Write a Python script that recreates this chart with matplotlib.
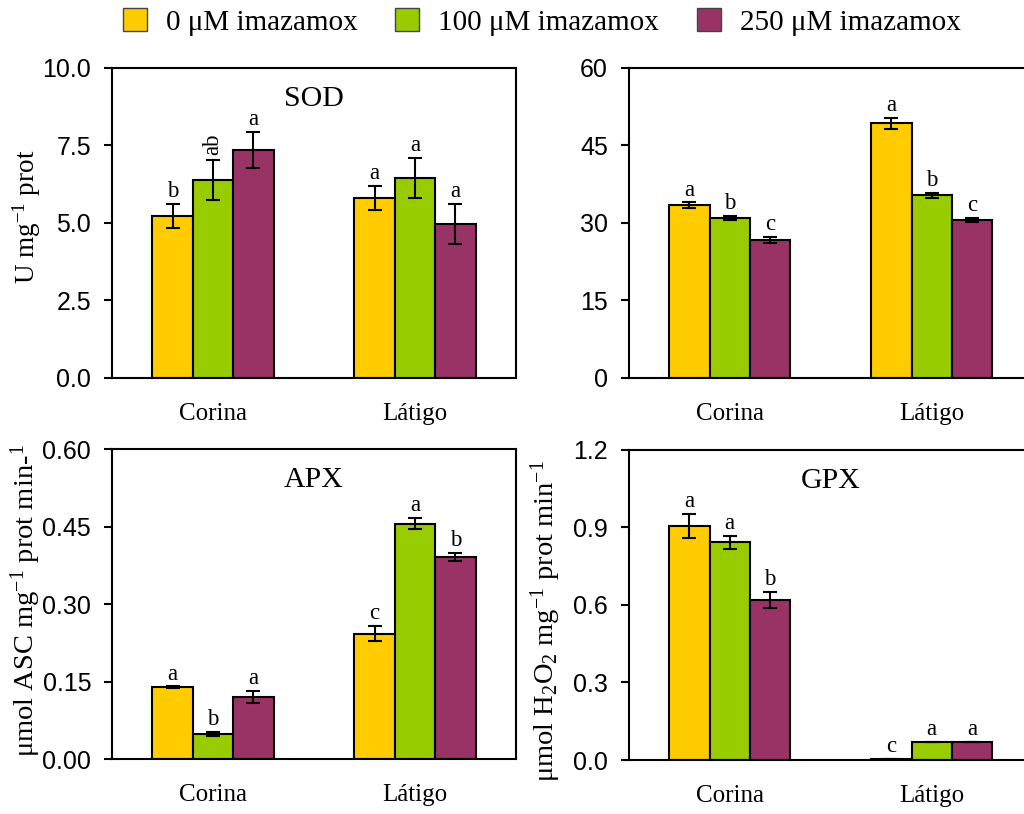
import matplotlib
matplotlib.use("Agg")
import matplotlib.pyplot as plt
from matplotlib.patches import Patch
import numpy as np

plt.rcParams.update({
    "font.family": "Liberation Serif",
    "mathtext.fontset": "custom",
    "mathtext.rm": "Liberation Serif",
    "mathtext.it": "Liberation Serif:italic",
    "mathtext.bf": "Liberation Serif:bold",
})

cultivars = ["Corina", "Látigo"]
treatments = ["0 μM imazamox", "100 μM imazamox", "250 μM imazamox"]
colors = ["#FFCC00", "#99CC00", "#993366"]

# values per treatment: [Corina, Látigo]
sod_mean = [[5.22, 5.80], [6.37, 6.44], [7.35, 4.96]]
sod_err = [[0.38, 0.38], [0.64, 0.65], [0.58, 0.64]]
sod_let = [["b", "a"], ["ab", "a"], ["a", "a"]]

cat_mean = [[33.4, 49.2], [30.9, 35.3], [26.7, 30.5]]
cat_err = [[0.5, 1.1], [0.45, 0.45], [0.6, 0.45]]
cat_let = [["a", "a"], ["b", "b"], ["c", "c"]]

apx_mean = [[0.139, 0.243], [0.0496, 0.456], [0.120, 0.391]]
apx_err = [[0.002, 0.015], [0.004, 0.011], [0.012, 0.008]]
apx_let = [["a", "c"], ["b", "a"], ["a", "b"]]

gpx_mean = [[0.905, 0.005], [0.842, 0.069], [0.619, 0.069]]
gpx_err = [[0.046, 0.0], [0.024, 0.0], [0.031, 0.0]]
gpx_let = [["a", "c"], ["a", "a"], ["b", "a"]]

panels = [
    # rect, means, errs, letters, ylim, yticks, fmt, title, ylabel, label size, label coords
    ([0.1094, 0.536, 0.3945, 0.381], sod_mean, sod_err, sod_let, 10, [0, 2.5, 5, 7.5, 10], "%.1f",
     "SOD", "U mg$^{-1}$ prot", 19.5, (-0.17, 0.52)),
    ([0.614, 0.536, 0.3945, 0.381], cat_mean, cat_err, cat_let, 60, [0, 15, 30, 45, 60], "%d",
     "", "", 19, None),
    ([0.1094, 0.0672, 0.3945, 0.381], apx_mean, apx_err, apx_let, 0.6, [0, 0.15, 0.30, 0.45, 0.60], "%.2f",
     "APX", "μmol ASC mg$^{-1}$ prot min-$^{1}$", 20.5, (-0.17, 0.51)),
    ([0.614, 0.0663, 0.3945, 0.381], gpx_mean, gpx_err, gpx_let, 1.2, [0, 0.3, 0.6, 0.9, 1.2], "%.1f",
     "GPX", "μmol H$_2$O$_2$ mg$^{-1}$ prot min$^{-1}$", 20.5, (-0.163, 0.447)),
]

fig = plt.figure(figsize=(10.24, 8.14), dpi=100)

x = np.array([1.0, 3.0])
w = 0.4
for rect, means, errs, lets, ymax, yticks, fmt, title, ylabel, lsize, lc in panels:
    ax = fig.add_axes(rect)
    for i in range(3):
        pos = x + (i - 1) * w
        ax.bar(pos, means[i], w, color=colors[i], edgecolor="black", linewidth=1.5, zorder=2)
        ax.errorbar(pos, means[i], yerr=errs[i], fmt="none", ecolor="black",
                    elinewidth=1.5, capsize=5, capthick=1.5, zorder=3)
        for j in range(2):
            top = means[i][j] + errs[i][j]
            if len(lets[i][j]) > 1:
                # two-letter groups are written vertically
                ax.text(pos[j], top + ymax * 0.016, lets[i][j], ha="center", va="bottom",
                        fontsize=16.5, rotation=90)
            else:
                ax.text(pos[j], top + ymax * 0.006, lets[i][j], ha="center", va="bottom",
                        fontsize=16.5)
    ax.set_xlim(0, 4)
    ax.set_ylim(0, ymax)
    ax.set_yticks(yticks)
    ax.yaxis.set_major_formatter(matplotlib.ticker.FormatStrFormatter(fmt))
    ax.set_xticks(x)
    ax.set_xticklabels(cultivars, fontsize=18)
    ax.tick_params(axis="x", length=0, pad=18)
    ax.tick_params(axis="y", length=6, width=1.5, pad=9, labelsize=18)
    for lab in ax.get_yticklabels():
        lab.set_fontfamily("Liberation Sans")
    for s in ax.spines.values():
        s.set_linewidth(1.5)
    if title:
        ax.text(0.5, 0.9, title, transform=ax.transAxes, ha="center", va="center", fontsize=21.5)
    if ylabel:
        ax.set_ylabel(ylabel, fontsize=lsize)
        ax.yaxis.set_label_coords(*lc)

handles = [Patch(facecolor=c, edgecolor="#444444", linewidth=1) for c in colors]
fig.legend(handles, treatments, loc="center", bbox_to_anchor=(0.529, 1 - 22 / 814), ncol=3,
           frameon=False, fontsize=21, handlelength=0.82, handleheight=0.82,
           handletextpad=0.65, columnspacing=1.3, borderpad=0, borderaxespad=0)

fig.savefig("out.png", dpi=100)
